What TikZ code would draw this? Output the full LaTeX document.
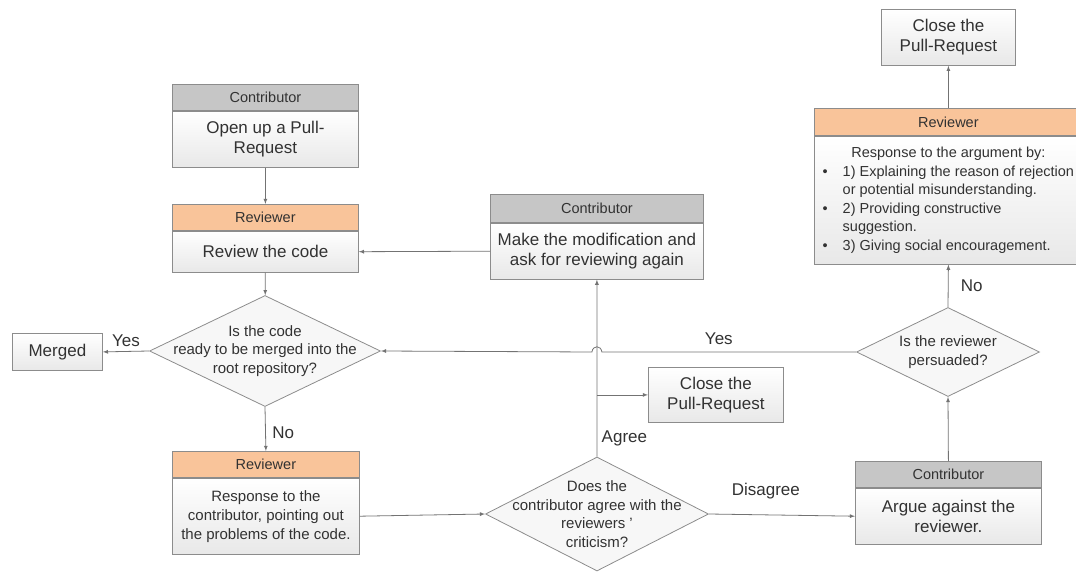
\documentclass[tikz,border=0pt]{standalone}
\usepackage{fontspec}
\setmainfont{Liberation Sans}
\usetikzlibrary{positioning,shapes.geometric}
\definecolor{revorange}{RGB}{249,196,154}
\definecolor{contgray}{RGB}{198,198,198}
\definecolor{framegray}{RGB}{140,140,140}
\definecolor{linegray}{RGB}{115,115,115}
\definecolor{txtgray}{RGB}{50,50,50}
\tikzset{%
  role/.style={
    draw=framegray,
    line width=0.8pt,
    inner sep=0pt,
    anchor=north west,
    font=\fontsize{14.5}{17}\selectfont,
    text=txtgray
  },
  reviewer/.style={role,fill=revorange,minimum height=26pt},
  contributor/.style={role,fill=contgray,minimum height=27pt},
  taskbox/.style={
    draw=framegray,
    line width=0.8pt,
    inner sep=0pt,
    top color=white,
    bottom color=black!9,
    align=center,
    font=\fontsize{17}{20}\selectfont,
    text=txtgray
  },
  decision/.style={
    diamond,
    draw=framegray,
    line width=0.8pt,
    inner sep=0pt,
    fill=black!3
  },
}

\begin{document}
\begin{tikzpicture}[x=1pt,y=-1pt,>=latex]
  \tikzstyle{qtext}=[align=center,font=\fontsize{15}{18.5}\selectfont,text=txtgray]
  \tikzstyle{flow}=[draw=linegray,line width=0.8pt,->]
  \tikzstyle{tag}=[font=\fontsize{17}{20}\selectfont,text=txtgray]

  \useasboundingbox (0,0) rectangle (1076,572);

  % left column
  \node[contributor,minimum width=186pt,minimum height=26pt] (openh) at (172,84) {Contributor};
  \node[taskbox,minimum width=186pt,minimum height=56pt,below=0pt of openh] (open) {Open up a Pull-\\Request};

  \node[reviewer,minimum width=186pt] (rev1h) at (172,204) {Reviewer};
  \node[taskbox,minimum width=186pt,minimum height=41pt,below=0pt of rev1h] (rev1) {Review the code};

  \node[decision,minimum width=231pt,minimum height=111pt] (q1) at (265,351) {};
  \node[qtext] (q1t) at (q1) {Is the code\\ready to be merged into the\\root repository?};

  \node[taskbox,minimum width=90pt,minimum height=37pt,anchor=north west] (merged) at (12,333) {Merged};

  \node[reviewer,minimum width=187pt] (rev2h) at (172,451) {Reviewer};
  \node[taskbox,minimum width=187pt,minimum height=76pt,below=0pt of rev2h,
        font=\fontsize{15}{19}\selectfont] (rev2) {Response to the\\contributor, pointing out\\the problems of the code.};

  % middle column
  \node[contributor,minimum width=213pt,minimum height=28pt] (modh) at (490,194) {Contributor};
  \node[taskbox,minimum width=213pt,minimum height=56pt,below=0pt of modh] (mod) {Make the modification and\\ask for reviewing again};

  \node[taskbox,minimum width=135pt,minimum height=55pt,anchor=north west] (close2) at (648,367) {Close the\\Pull-Request};

  \node[decision,minimum width=223pt,minimum height=114pt] (q2) at (597,514) {};
  \node[qtext] (q2t) at (q2) {Does the\\contributor agree with the\\reviewers '\\criticism?};

  % right column
  \node[taskbox,minimum width=134pt,minimum height=56pt,anchor=north west] (close1) at (881,9) {Close the\\Pull-Request};

  \node[reviewer,minimum width=268pt,minimum height=27pt] (rev3h) at (814,108) {Reviewer};
  \node[taskbox,minimum width=268pt,minimum height=128pt,below=0pt of rev3h,
        font=\fontsize{14.5}{18.6}\selectfont] (rev3) {%
    \begin{tabular}{@{}l@{}l@{}}
      \multicolumn{2}{c}{Response to the argument by:}\\
      \makebox[20pt][l]{\textbullet} & 1) Explaining the reason of rejection\\
       & or potential misunderstanding.\\
      \makebox[20pt][l]{\textbullet} & 2) Providing constructive\\
       & suggestion.\\
      \makebox[20pt][l]{\textbullet} & 3) Giving social encouragement.
    \end{tabular}};

  \node[decision,minimum width=183pt,minimum height=89pt] (q3) at (948,352) {};
  \node[qtext] (q3t) at (q3) {Is the reviewer\\persuaded?};

  \node[contributor,minimum width=186pt,minimum height=26pt] (argueh) at (855,461) {Contributor};
  \node[taskbox,minimum width=186pt,minimum height=56pt,below=0pt of argueh] (argue) {Argue against the\\reviewer.};

  % connectors
  \coordinate (hop) at (mod.south |- q3.west);
  \coordinate (split) at (q2.north |- close2.west);

  \draw[flow] (open) -- (rev1h);
  \draw[flow] (rev1) -- (q1);
  \draw[flow] (q1.west) -- node[tag,above=1pt] {Yes} (merged.east);
  \draw[flow] (q1.south) -- node[tag,right=3pt,pos=0.59] {No} (rev2h.north);
  \draw[flow] (rev2.east) -- (q2.west);
  \draw[flow] (q2.north) -- node[tag,right=1pt,pos=0.1] {Agree} (mod.south);
  \draw[flow] (split) -- (close2.west);
  \draw[flow] (mod.west) -- (rev1.east);
  \draw[flow] (q2.east) -- node[tag,above=12pt,pos=0.39] {Disagree} (argue.west);
  \draw[flow] (argueh.north) -- (q3.south);
  \draw[flow] (q3.north) -- node[tag,right=9pt] {No} (rev3.south);
  \draw[flow] (rev3h.north) -- (close1.south);
  \draw[flow] (q3.west) -- node[tag,above=4pt,pos=0.54] {Yes} ([xshift=5pt]hop)
    .. controls ([xshift=4pt,yshift=7pt]hop) and ([xshift=-4pt,yshift=7pt]hop) .. ([xshift=-5pt]hop)
    -- (q1.east);
\end{tikzpicture}
\end{document}
